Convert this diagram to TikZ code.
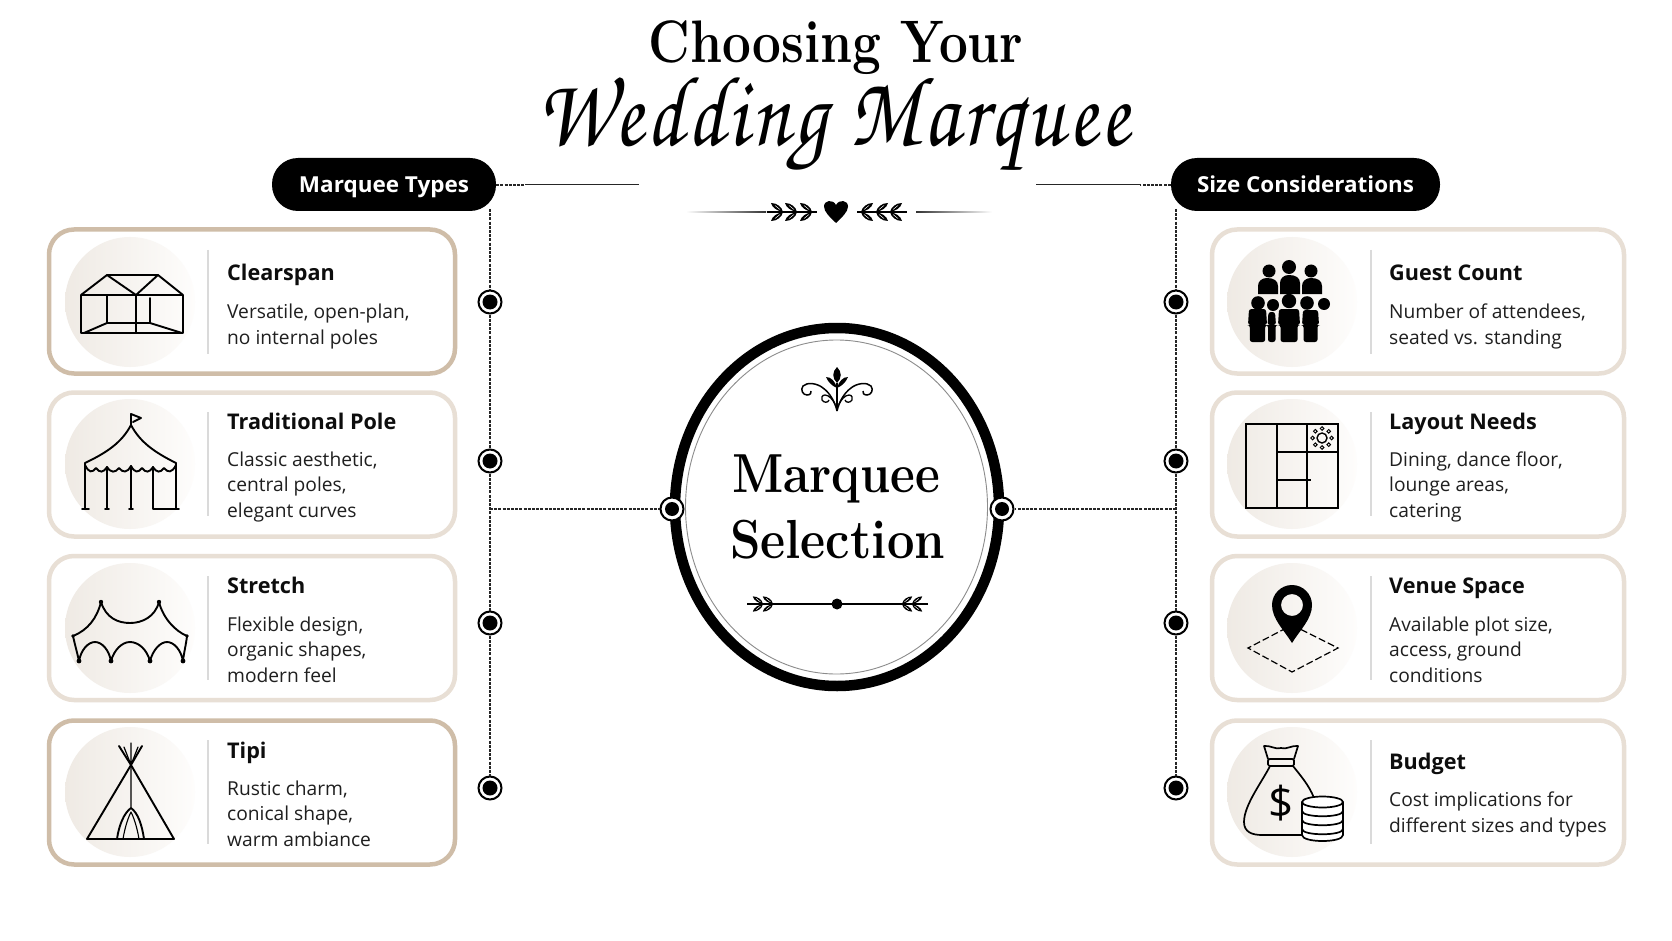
\documentclass[tikz,border=0pt]{standalone}
\usepackage{graphicx}
\usepackage{fontspec}
\setsansfont{Open Sans}
\newfontfamily\scriptfam[LetterSpace=4]{TeX Gyre Chorus}
\usetikzlibrary{shapes.geometric}
\definecolor{cardA}{HTML}{CFBDA8}
\definecolor{cardB}{HTML}{E8DFD5}
\definecolor{barc}{HTML}{DADADA}
\definecolor{bgL}{HTML}{EFEAE4}
\definecolor{bgR}{HTML}{FEFDFC}
\newcommand{\fsz}[1]{\fontsize{#1}{#1}\selectfont}
\tikzset{
 x=1pt,y=-1pt,
 cardbox/.style={draw=cardB,line width=4.5pt,rounded corners=25pt,fill=white,minimum width=#1,minimum height=144pt,inner sep=0pt,outer sep=0pt},
 cardbox/.default=406pt,
 cardstrong/.style={cardbox=#1,draw=cardA},
 cardstrong/.default=406pt,
 iconbg/.style={circle,minimum size=130pt,inner sep=0pt,left color=bgL,right color=bgR},
 barline/.style={draw=barc,line width=1.2pt},
 headt/.style={anchor=base west,inner sep=0pt,font=\sffamily\bfseries\fontsize{21.6}{21.6}\selectfont,text=black!95},
 bodyt/.style={anchor=base west,inner sep=0pt,align=left,font=\sffamily\fontsize{19.2}{25.5}\selectfont,text=black!88},
 pill/.style={fill=black,text=white,rounded corners=26pt,minimum height=53pt,inner sep=0pt,text height=21pt,text depth=5pt,font=\sffamily\bfseries\fontsize{22}{22}\selectfont},
 tick/.style={circle,fill=white,draw=black,line width=2pt,minimum size=23pt,inner sep=0pt},
 core/.style={circle,fill=black,minimum size=15pt,inner sep=0pt},
 link/.style={line width=1.2pt,dash pattern=on 3pt off 1.2pt,black!85},
 stub/.style={line width=1pt,black!85},
 ico/.style={line width=1.9pt,black,line cap=round,line join=round},
 leaf/.pic={\fill (0,0) .. controls (-1,-5) and (-6,-9) .. (-12,-9) .. controls (-11,-4) and (-5,-1) .. (0,0);
            \fill (0,0) .. controls (-1,5) and (-6,9) .. (-12,9) .. controls (-11,4) and (-5,1) .. (0,0);
            \draw[white,line width=.45pt] (-3,-2.5) -- (-8,-6.5) (-3,2.5) -- (-8,6.5);},
 sprig/.pic={\draw[line width=1.3pt] (-25,0) -- (25,0);
   \path (20.5,0) pic[transform shape] {leaf}; \path (5.5,0) pic[transform shape] {leaf}; \path (-8.5,0) pic[transform shape] {leaf};},
 sprigb/.pic={\draw[line width=1.2pt] (-16,0) -- (18,0);
   \path (0,0) pic[transform shape,scale=.85] {leaf}; \path (10,0) pic[transform shape,scale=.85] {leaf};},
 halffleur/.pic={
   \fill (0,-23) .. controls (5,-18) and (5,-12) .. (0,-7) -- cycle;
   \fill (0,-2) .. controls (2,-9) and (6,-13) .. (11,-13) .. controls (9,-8) and (5,-4) .. (0,-2);
   \draw[line width=1.5pt] (0,21) -- (0,-7);
   \draw[line width=1.5pt] (0,21) .. controls (2,12) and (7,3) .. (14,-2) .. controls (20,-7) and (30,-8) .. (34,-4) .. controls (37,0) and (34,5) .. (30,5) .. controls (27,5) and (25,3) .. (26,1);
   \draw[line width=1.3pt] (2,14) .. controls (4,10) and (8,5) .. (12,5) .. controls (15,5) and (16,8) .. (15,10) .. controls (13,13) and (9,13) .. (8,10);}
}
\begin{document}
\begin{tikzpicture}
\useasboundingbox (0,0) rectangle (1672,941);
\fill[white] (0,0) rectangle (1672,941);

% title
\node[anchor=base,inner sep=0pt] (title1) at (836,63) {\bfseries\fsz{60}\resizebox{375pt}{\height}{Choosing Your}};
\node[anchor=base,inner sep=0pt] (title2) at (833,146) {\fsz{100}\resizebox{592pt}{\height}{\scriptfam Wedding Marquee}};

% heart divider
\shade[left color=white,right color=black!80] (686,211.4) rectangle (766,212.8);
\shade[left color=black!80,right color=white] (916,211.4) rectangle (992,212.8);
\path (791.5,212) pic[black] {sprig};
\path (881.5,212) pic[black,xscale=-1] {sprig};
\fill[black] (836,223) .. controls (830,217) and (824,212) .. (824,206.5) .. controls (824,200) and (833,199) .. (836,205) .. controls (839,199) and (848,200) .. (848,206.5) .. controls (848,212) and (842,217) .. (836,223);

% pills
\node[pill,minimum width=224pt] (pillA) at (384,184.5) {\resizebox{170pt}{\height}{Marquee Types}};
\node[pill,minimum width=269pt] (pillB) at (1305.5,184.5) {\resizebox{217pt}{\height}{Size Considerations}};

% cards left
\node[cardstrong] (cL1) at (252,301.5) {};
\node[cardbox] (cL2) at (252,464.5) {};
\node[cardbox] (cL3) at (252,628) {};
\node[cardstrong] (cL4) at (252,792.5) {};
\node[cardbox=412pt] (cR1) at (1418,301.5) {};
\node[cardbox=412pt] (cR2) at (1418,464.5) {};
\node[cardbox=412pt] (cR3) at (1418,628) {};
\node[cardbox=412pt] (cR4) at (1418,792.5) {};

\foreach \nm/\yy in {1/302,2/464,3/628,4/792}{
  \node[iconbg] (icL\nm) at (130,\yy) {};
  \node[iconbg] (icR\nm) at (1292,\yy) {};
  \draw[barline] (208,\yy-52) -- (208,\yy+52);
  \draw[barline] (1371,\yy-52) -- (1371,\yy+52);
}

% card text left
\node[headt] (hL1) at (227,280) {Clearspan};
\node[bodyt] (bL1) at (227,344) {Versatile, open-plan,\\no internal poles};
\node[headt] (hL2) at (227,429) {Traditional Pole};
\node[bodyt] (bL2) at (227,517) {Classic aesthetic,\\central poles,\\elegant curves};
\node[headt] (hL3) at (227,593) {Stretch};
\node[bodyt] (bL3) at (227,682) {Flexible design,\\organic shapes,\\modern feel};
\node[headt] (hL4) at (227,758) {Tipi};
\node[bodyt] (bL4) at (227,846) {Rustic charm,\\conical shape,\\warm ambiance};
% card text right
\node[headt] (hR1) at (1389,280) {Guest Count};
\node[bodyt] (bR1) at (1389,344) {Number of attendees,\\seated vs. standing};
\node[headt] (hR2) at (1389,429) {Layout Needs};
\node[bodyt] (bR2) at (1389,517) {Dining, dance floor,\\lounge areas,\\catering};
\node[headt] (hR3) at (1389,593) {Venue Space};
\node[bodyt] (bR3) at (1389,682) {Available plot size,\\access, ground\\conditions};
\node[headt] (hR4) at (1389,769) {Budget};
\node[bodyt] (bR4) at (1389,832) {Cost implications for\\different sizes and types};

% timeline
\coordinate (tlA) at (490,209);
\coordinate (tlB) at (1176,209);
\coordinate (stubAm) at (525,185);
\coordinate (stubAe) at (639,185);
\coordinate (stubBm) at (1140,185);
\coordinate (stubBe) at (1036,185);
\coordinate (jA) at (490,509);
\coordinate (jB) at (1176,509);
\node[tick] (dA1) at (490,302) {};
\node[tick] (dA2) at (490,461) {};
\node[tick] (dA3) at (490,623) {};
\node[tick] (dA4) at (490,788) {};
\node[tick] (dB1) at (1176,302) {};
\node[tick] (dB2) at (1176,461) {};
\node[tick] (dB3) at (1176,623) {};
\node[tick] (dB4) at (1176,788) {};
\draw[link] (tlA) -- (dA1) (dA1) -- (dA2) (dA2) -- (dA3) (dA3) -- (dA4);
\draw[link] (tlB) -- (dB1) (dB1) -- (dB2) (dB2) -- (dB3) (dB3) -- (dB4);
\draw[link] (pillA.east |- stubAm) -- (stubAm);
\draw[stub] (stubAm) -- (stubAe);
\draw[link] (pillB.west |- stubBm) -- (stubBm);
\draw[stub] (stubBm) -- (stubBe);
\foreach \nm in {dA1,dA2,dA3,dA4,dB1,dB2,dB3,dB4}{\node[core] at (\nm) {};}

% central oval
\node[ellipse,draw=black,line width=10.5pt,minimum width=324pt,minimum height=358pt,inner sep=0pt,outer sep=0pt,fill=white] (oval) at (837,507) {};
\node[ellipse,draw=black!45,line width=.9pt,minimum width=302pt,minimum height=334pt,inner sep=0pt,outer sep=0pt] (ovalin) at (836.5,507) {};
\node[tick,line width=2pt] (oL) at (672,509) {};
\node[tick,line width=2pt] (oR) at (1002,509) {};
\node[core,minimum size=14pt] at (oL) {};
\node[core,minimum size=14pt] at (oR) {};
\draw[link] (jA) -- (oL);
\draw[link] (jB) -- (oR);
\path (837,390) pic[black] {halffleur};
\path (837,390) pic[black,xscale=-1] {halffleur};
\node[anchor=base,inner sep=0pt] (mq) at (836,492) {\bfseries\fsz{55}\resizebox{208pt}{\height}{Marquee}};
\node[anchor=base,inner sep=0pt] (sl) at (837.5,558) {\bfseries\fsz{55}\resizebox{215pt}{\height}{Selection}};
\draw[line width=1.2pt] (747,604) -- (928,604);
\path (763,604) pic[black] {sprigb};
\path (912,604) pic[black,xscale=-1] {sprigb};
\fill[black] (837,604) circle (5.5);

% icon clearspan
\draw[ico] (81,333) -- (183,333) (81,295) -- (183,295) (81,295) -- (81,333) (183,295) -- (183,333)
  (81,295) -- (107,275) -- (158,275) -- (183,295) (107,275) -- (136,295) -- (158,275)
  (107,295) -- (107,323) -- (150,323) -- (150,298) (136,295) -- (136,333)
  (84,333) -- (107,323) (182,333) -- (150,323);
% icon pole
\draw[ico] (131,425) -- (131,414) -- (141,418) -- (133,422);
\draw[ico] (85,463) .. controls (108,452) and (122,442) .. (131,425) .. controls (140,442) and (154,452) .. (176,463);
\draw[ico] (85,463) -- (85,508) (176,463) -- (176,508) (107,467) -- (107,508) (131,466) -- (131,508) (153,467) -- (153,509) -- (176,509);
\draw[ico] (85,465) .. controls (89,473) and (92,473) .. (96,468) .. controls (100,473) and (103,473) .. (107,467) .. controls (111,473) and (115,473) .. (119,468) .. controls (123,473) and (127,473) .. (131,466) .. controls (135,473) and (138,473) .. (142,468) .. controls (146,473) and (149,473) .. (153,467) .. controls (157,473) and (160,473) .. (164,468) .. controls (168,473) and (172,473) .. (176,465);
\draw[ico] (82,509) -- (89,509) (105,509) -- (109,509) (129,509) -- (133,509) (173,509) -- (179,509);
% icon stretch
\draw[ico] (73,636) .. controls (88,630) and (97,618) .. (101,602) .. controls (106,618) and (118,623) .. (130,623) .. controls (142,623) and (155,617) .. (159,602) .. controls (163,618) and (175,631) .. (187,636);
\draw[ico] (73,636) .. controls (75,645) and (77,652) .. (79,661) .. controls (81,650) and (88,642) .. (95,642) .. controls (102,642) and (109,650) .. (111,661) .. controls (114,650) and (122,642) .. (130,642) .. controls (139,642) and (147,650) .. (150,661) .. controls (153,650) and (160,642) .. (167,642) .. controls (174,642) and (181,650) .. (183,661) .. controls (184,652) and (186,645) .. (187,636);
\fill (101,602) circle (2.2) (159,602) circle (2.2) (73,636) circle (1.8) (187,636) circle (1.8) (79,661) circle (2.4) (111,661) circle (2.4) (150,661) circle (2.4) (183,661) circle (2.4);
% icon tipi
\draw[ico] (87,839) -- (174,839) (87,839) -- (131,765) -- (174,839) (131,765) -- (119,746) (131,765) -- (142,746);
\draw[ico,line width=1.2pt] (131,743) -- (131,808) (131,765) -- (124,747) (131,765) -- (138,747);
\draw[ico] (117,839) .. controls (119,825) and (124,813) .. (131,808) .. controls (138,813) and (142,825) .. (144,839);
\draw[ico,line width=1.1pt] (123,839) .. controls (125,827) and (128,818) .. (131,812) .. controls (134,818) and (137,827) .. (139,839);
% icon guests
\fill[black] (1269,271) circle (6.5) (1289,267) circle (7) (1311,271) circle (6.5)
 (1258,303) circle (6.8) (1273,305) circle (6) (1289,301) circle (7.2) (1307,303) circle (6.8) (1324,304) circle (6);
\foreach \xa/\xb/\yt in {1258/1278/278,1280/1300/275,1302/1322/278}{
  \fill[black] (\xa,294) -- (\xa,\yt+8) .. controls (\xa,\yt+3) and (\xa+4,\yt) .. (\xa+9,\yt) .. controls (\xb-4,\yt) and (\xb,\yt+3) .. (\xb,\yt+8) -- (\xb,294) -- cycle;}
\foreach \xa/\xb/\yt/\ins in {1248/1267/309/1.8,1267.5/1276/312/.5,1278/1300/309/2.5,1302/1319/310/1.5}{
  \fill[black,rounded corners=2.5pt] (\xa,325) -- (\xa+1,\yt) -- (\xb-1,\yt) -- (\xb,325) -- (\xb-\ins,325) -- (\xb-\ins,342) -- (\xa+\ins,342) -- (\xa+\ins,325) -- cycle;}
% icon layout
\draw[ico,line cap=butt,line join=miter] (1246,424) rectangle (1338,508) (1277,424) -- (1277,508) (1307,424) -- (1307,508) (1277,452) -- (1338,452) (1277,480) -- (1311,480);
\draw[line width=1.4pt] (1322,438) circle (5);
\foreach \a in {0,45,...,315}{\draw[line width=1pt,fill=white] (1322,438) ++(\a:9.5) circle (1.8);}
% icon venue
\draw[black,line width=1.2pt,dash pattern=on 7pt off 3pt] (1292,625) -- (1338,648) -- (1292,672) -- (1248,648) -- cycle;
\fill[black,even odd rule] (1292,643) .. controls (1284,630) and (1272,619) .. (1272,605) .. controls (1272,594) and (1281,585) .. (1292,585) .. controls (1303,585) and (1312,594) .. (1312,605) .. controls (1312,619) and (1300,630) .. (1292,643) -- cycle (1292,605) circle (11);
% icon budget
\draw[ico,line width=1.7pt] (1270,766) .. controls (1262,782) and (1244,805) .. (1244,822) .. controls (1244,832) and (1252,835) .. (1262,835) -- (1303,835);
\draw[ico,line width=1.7pt] (1293,766) .. controls (1300,775) and (1309,785) .. (1314,798);
\draw[ico,line width=1.7pt,rounded corners=1.5pt] (1268,759) rectangle (1294,766);
\draw[ico,line width=1.7pt] (1268,759) -- (1264,746) .. controls (1270,745) and (1276,750) .. (1281,748) .. controls (1286,750) and (1292,745) .. (1298,746) -- (1294,759);
\node[inner sep=0pt] (dollar) at (1281,803) {\sffamily\fsz{44}\$};
\draw[ico,fill=white,line width=1.7pt] (1302,802) -- (1302,835) .. controls (1302,843) and (1343,843) .. (1343,835) -- (1343,802);
\draw[ico,fill=white,line width=1.7pt] (1322.5,802) ellipse (20.5 and 5.5);
\draw[ico,line width=1.7pt] (1302,811) .. controls (1302,818) and (1343,818) .. (1343,811)
  (1302,820) .. controls (1302,827) and (1343,827) .. (1343,820)
  (1302,829) .. controls (1302,836) and (1343,836) .. (1343,829);
\end{tikzpicture}
\end{document}
